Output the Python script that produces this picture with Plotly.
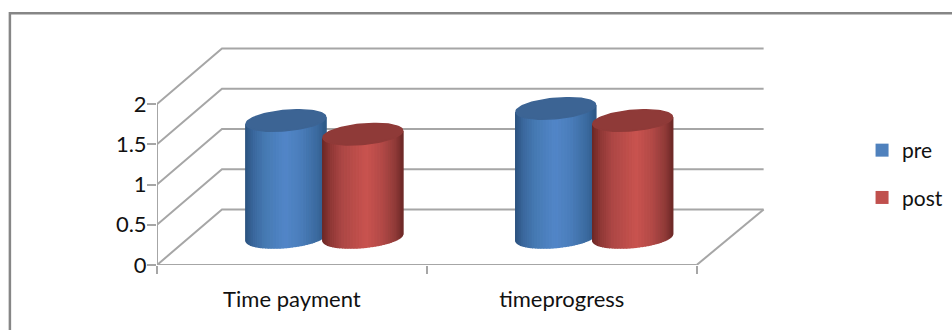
import plotly.graph_objects as go
import numpy as np

# Chart values
categories = ["Time payment", "timeprogress"]
pre = [1.45, 1.6]
post = [1.28, 1.45]
y_ticks = [0, 0.5, 1, 1.5, 2]
y_tick_labels = ["0", "0.5", "1", "1.5", "2"]
series_names = ["pre", "post"]

# Canvas and plot frame in pixels; the frame also holds the walls and the legend
W, H = 952, 330
LEFT, RIGHT, TOP, BOTTOM = 156.5, 951.0, 40, 265
PX_X = 270.0                   # pixels per category
PX_Y = 80.5                    # pixels per value unit
X_MAX = (RIGHT - LEFT) / PX_X
Y_MAX = (BOTTOM - TOP) / PX_Y

# Oblique projection of the depth axis, in axis units
DEPTH_X = 65 / PX_X
DEPTH_Y = 55.5 / PX_Y
BACK_EXTRA = 2 / PX_X          # the back wall runs slightly past the floor's front width
BAR_OFFSET = 0.1425            # half distance between the two cylinders of a category
OUTLINE = 1.5                  # width of the strip outlines that hide seams
RADIUS_X = (38.6 - OUTLINE / 2) / PX_X   # cylinder radius along the category axis
RADIUS_D = 0.195               # cylinder radius as a fraction of the depth

GRID = "#a6a6a6"
FRAME = "#868686"
FONT = dict(family="Lato, Carlito, sans-serif", size=22, color="#111111")
LEGEND_FONT = dict(family="Lato, Carlito, sans-serif", size=21, color="#111111")

BLUE_RAMP = [(0, "#2b527f"), (0.1, "#3a679d"), (0.25, "#467ab3"), (0.5, "#5286c8"),
             (0.7, "#4a7dba"), (0.9, "#3b6a9f"), (1, "#2f5a88")]
RED_RAMP = [(0, "#6b2725"), (0.1, "#8e3735"), (0.25, "#ac4745"), (0.55, "#c9534f"),
            (0.75, "#b34a47"), (0.92, "#8f3a38"), (1, "#6f2a28")]
BLUE_TOP, RED_TOP = "#3c6494", "#8f3a38"
BLUE_KEY, RED_KEY = "#4f81bd", "#c0504d"


def hex_rgb(c):
    return np.array([int(c[i:i + 2], 16) for i in (1, 3, 5)], dtype=float)


def ramp_colour(ramp, t):
    pos = [p for p, _ in ramp]
    rgb = np.array([hex_rgb(c) for _, c in ramp])
    vals = [np.interp(t, pos, rgb[:, k]) for k in range(3)]
    return "rgb({:.0f},{:.0f},{:.0f})".format(*vals)


def circle(cx, value, theta):
    """Project a point of the horizontal circle at height `value` onto the axes."""
    depth = 0.5 + RADIUS_D * np.sin(theta)
    x = cx + RADIUS_X * np.cos(theta) + DEPTH_X * depth
    y = value + DEPTH_Y * depth
    return x, y


fig = go.Figure()


def add_line(xs, ys):
    fig.add_trace(go.Scatter(x=xs, y=ys, mode="lines", cliponaxis=False, showlegend=False,
                             hoverinfo="skip", line=dict(color=GRID, width=2)))


# Side wall and back wall gridlines
for v in y_ticks:
    add_line([0, DEPTH_X, 2 + DEPTH_X + BACK_EXTRA], [v, v + DEPTH_Y, v + DEPTH_Y])
# Right-hand edge of the floor, front edge of the floor, and the value axis
add_line([2, 2 + DEPTH_X + BACK_EXTRA], [0, DEPTH_Y])
add_line([0, 2], [0, 0])
add_line([0, 0], [0, 2])


def add_cylinder(cx, value, ramp, top_colour):
    edge = np.arctan2(RADIUS_D * DEPTH_X, RADIUS_X)
    thetas = np.linspace(np.pi + edge, 2 * np.pi + edge, 41)
    xs0, _ = circle(cx, 0, thetas)
    span0, span1 = xs0.min(), xs0.max()
    for a, b in zip(thetas[:-1], thetas[1:]):
        xa, ya = circle(cx, 0, a)
        xb, yb = circle(cx, 0, b)
        t = ((xa + xb) / 2 - span0) / (span1 - span0)
        colour = ramp_colour(ramp, t)
        fig.add_trace(go.Scatter(
            x=[xa, xb, xb, xa, xa],
            y=[ya, yb, yb + value, ya + value, ya],
            mode="lines", fill="toself", fillcolor=colour, cliponaxis=False,
            line=dict(color=colour, width=OUTLINE), showlegend=False, hoverinfo="skip"))
    ring = np.linspace(0, 2 * np.pi, 90)
    xt, yt = circle(cx, value, ring)
    fig.add_trace(go.Scatter(x=xt, y=yt, mode="lines", fill="toself", fillcolor=top_colour,
                             cliponaxis=False, line=dict(color=top_colour, width=OUTLINE),
                             showlegend=False, hoverinfo="skip"))


for i in range(len(categories)):
    add_cylinder(i + 0.5 - BAR_OFFSET, pre[i], BLUE_RAMP, BLUE_TOP)
    add_cylinder(i + 0.5 + BAR_OFFSET, post[i], RED_RAMP, RED_TOP)

# Legend entries
for name, colour in zip(series_names, [BLUE_KEY, RED_KEY]):
    fig.add_trace(go.Scatter(x=[None], y=[None], mode="markers", name=name, legendgroup=name,
                             marker=dict(symbol="square", size=13, color=colour)))

to_paper_x = lambda px: (px - LEFT) / (RIGHT - LEFT)
to_paper_y = lambda py: (BOTTOM - py) / (BOTTOM - TOP)

fig.update_layout(
    width=W, height=H, autosize=False,
    margin=dict(l=LEFT, r=W - RIGHT, t=TOP, b=H - BOTTOM, pad=0),
    paper_bgcolor="white", plot_bgcolor="rgba(0,0,0,0)",
    font=FONT,
    xaxis=dict(range=[0, X_MAX], tickmode="array", tickvals=[0.5, 1.5], ticktext=categories,
               ticks="", showgrid=False, zeroline=False, showline=False, tickfont=FONT,
               ticklabelstandoff=19,
               minor=dict(tickmode="array", tickvals=[0, 1, 2], ticks="outside", ticklen=8,
                          tickwidth=2, tickcolor=GRID, showgrid=False)),
    yaxis=dict(range=[0, Y_MAX], tickmode="array", tickvals=y_ticks, ticktext=y_tick_labels,
               ticks="outside", ticklen=9, tickwidth=2, tickcolor=GRID, showgrid=False,
               zeroline=False, showline=False, tickfont=FONT, ticklabelstandoff=-4),
    legend=dict(x=to_paper_x(862), y=to_paper_y(130), xanchor="left", yanchor="top",
                tracegroupgap=17, font=LEGEND_FONT, bgcolor="rgba(0,0,0,0)", itemclick=False),
    showlegend=True,
    shapes=[dict(type="path", xref="paper", yref="paper",
                 path="M {} {} L {} {} L {} {}".format(
                     to_paper_x(9.3), to_paper_y(340),
                     to_paper_x(9.3), to_paper_y(13.3),
                     to_paper_x(960), to_paper_y(13.3)),
                 line=dict(color=FRAME, width=2.5))],
)

fig.write_html("out.html")
